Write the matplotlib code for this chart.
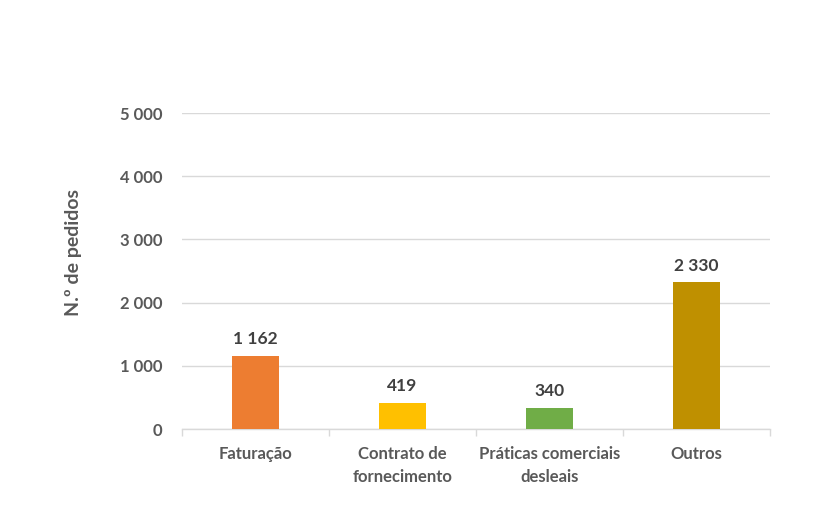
import numpy as np
import matplotlib.pyplot as plt
from matplotlib.ticker import FuncFormatter, FixedLocator

# Dados
categorias = ['Faturação', 'Contrato de\nfornecimento', 'Práticas comerciais\ndesleais', 'Outros']
pedidos = [1162, 419, 340, 2330]
cores = ['#ED7D31', '#FFC000', '#70AD47', '#BF9000']
yticks = [0, 1000, 2000, 3000, 4000, 5000]

plt.rcParams['font.family'] = ['Lato', 'DejaVu Sans']

fig = plt.figure(figsize=(8.35, 5.2), dpi=100)
ax = fig.add_axes([182 / 835, (520 - 429) / 520, (770 - 182) / 835, (429 - 113) / 520])

x = np.arange(len(categorias))
ax.bar(x, pedidos, width=0.32, color=cores, zorder=3)

# Rótulos dos valores
for xi, v in zip(x, pedidos):
    ax.text(xi, v + 130, f'{v:,}'.replace(',', ' '), ha='center', va='bottom',
            fontsize=12.5, fontweight='bold', color='#404040')

ax.set_xlim(-0.5, len(categorias) - 0.5)
ax.set_ylim(0, 5000)
ax.set_yticks(yticks)
ax.yaxis.set_major_formatter(FuncFormatter(lambda v, p: f'{int(v):,}'.replace(',', ' ')))
ax.set_xticks(x)
ax.set_xticklabels(categorias, linespacing=1.55)
ax.xaxis.set_minor_locator(FixedLocator(np.arange(-0.5, len(categorias), 1)))

ax.grid(axis='y', color='#D9D9D9', linewidth=1, zorder=0)
for s in ['top', 'right', 'left']:
    ax.spines[s].set_visible(False)
ax.spines['bottom'].set_color('#D9D9D9')
ax.spines['bottom'].set_linewidth(1)

ax.tick_params(axis='y', length=0, pad=14, labelsize=12, labelcolor='#595959')
ax.tick_params(axis='x', which='major', length=0, pad=12, labelsize=12, labelcolor='#595959')
ax.tick_params(axis='x', which='minor', length=5, color='#D9D9D9', width=1)
for lbl in ax.get_xticklabels() + ax.get_yticklabels():
    lbl.set_fontweight('bold')

ax.set_ylabel('N.º de pedidos', fontsize=14, fontweight='bold', color='#595959')
ax.yaxis.set_label_coords(-0.17, 0.56)

fig.savefig('out.png', dpi=100)
